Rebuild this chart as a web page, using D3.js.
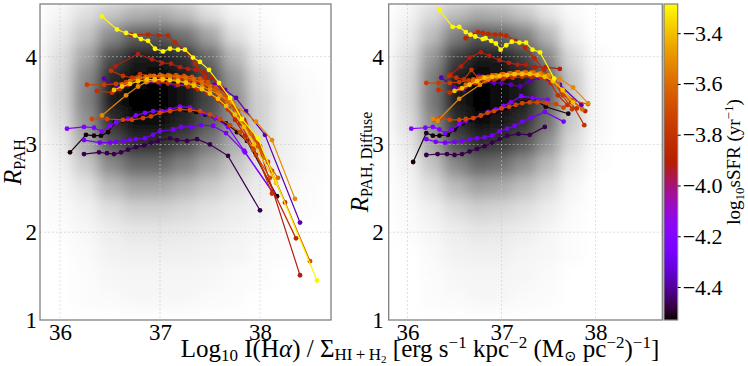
<!DOCTYPE html>
<html lang="en">
<head>
<meta charset="UTF-8">
<title>R_PAH vs Halpha per gas</title>
<script src="https://cdn.jsdelivr.net/npm/d3@7"></script>
<style>
  body { margin: 0; background: #fff; }
  svg text { font-family: "Liberation Serif", "DejaVu Serif", serif; fill: #000; }
</style>
</head>
<body>
<svg id="chart" width="748" height="366"></svg>
<script>
// ---- data ----
// one entry per galaxy, low sSFR first so the yellow one ends up on top
const sfrValues = [-4.52, -4.47, -4.38, -4.27, -4.22, -3.92, -3.86, -3.82, -3.80, -3.76, -3.72, -3.68, -3.60, -3.52, -3.40, -3.30];

const totalX = [
  [36.10,36.26,36.34,36.41,36.48,36.55,36.63,36.72,36.82,36.92,37.00,37.13,37.26,37.36,37.45,37.55,37.66,37.77,37.87,38.17],
  [36.24,36.39,36.47,36.54,36.61,36.68,36.76,36.84,36.91,36.98,37.10,37.17,37.27,37.37,37.50,37.68,38.00],
  [36.44,36.58,36.68,36.77,36.88,37.00,37.08,37.16,37.25,37.35,37.45,37.55,37.65,37.76,37.86,38.05,38.40],
  [36.24,36.40,36.50,36.56,36.63,36.70,36.76,36.85,36.93,37.00,37.13,37.21,37.31,37.41,37.53,37.66,37.85,38.13],
  [36.07,36.24,36.34,36.42,36.50,36.56,36.68,36.76,36.85,36.93,37.02,37.10,37.20,37.30,37.42,37.55,37.68,37.84,38.13],
  [36.55,36.78,36.92,37.02,37.11,37.20,37.28,37.36,37.44,37.52,37.62,37.72,37.84,37.98,38.40],
  [36.71,36.88,36.99,37.08,37.15,37.25,37.35,37.45,37.55,37.65,37.75,37.85,37.96,38.36],
  [36.37,36.52,36.60,36.68,36.78,36.88,36.98,37.08,37.18,37.28,37.38,37.48,37.58,37.68,37.80,37.94,38.12],
  [36.51,36.63,36.72,36.80,36.90,37.00,37.10,37.20,37.30,37.40,37.50,37.60,37.72,37.85,38.00,38.25],
  [36.27,36.44,36.56,36.66,36.76,36.85,36.95,37.05,37.15,37.25,37.35,37.45,37.55,37.65,37.75,37.86,37.98,38.12],
  [36.32,36.47,36.63,36.72,36.83,36.91,37.00,37.10,37.20,37.30,37.40,37.50,37.60,37.70,37.80,37.93,38.10],
  [36.70,36.80,36.90,37.00,37.08,37.16,37.24,37.32,37.40,37.48,37.56,37.66,37.78,37.92,38.08,38.50],
  [36.62,36.70,36.78,36.86,36.94,37.02,37.10,37.18,37.26,37.34,37.42,37.50,37.58,37.68,37.78,37.90,38.04,38.18],
  [36.42,36.66,36.78,36.86,36.94,37.02,37.10,37.18,37.26,37.34,37.42,37.50,37.60,37.72,37.96,38.12,38.35],
  [36.54,36.62,36.70,36.78,36.87,36.95,37.03,37.10,37.18,37.26,37.34,37.42,37.50,37.58,37.66,37.75,37.84,37.94,38.16],
  [36.42,36.57,36.66,36.75,36.81,36.88,36.95,37.03,37.10,37.18,37.25,37.33,37.40,37.49,37.59,37.70,37.82,37.98,38.57]
];
const totalY = [
  [2.91,3.11,3.10,3.10,3.14,3.25,3.27,3.29,3.31,3.34,3.36,3.39,3.39,3.37,3.34,3.30,3.24,3.14,3.04,2.41],
  [2.89,2.91,2.90,2.89,2.91,2.94,2.97,2.99,3.02,3.04,3.07,3.05,3.04,3.06,3.00,2.87,2.25],
  [3.75,3.65,3.69,3.73,3.71,3.70,3.69,3.67,3.69,3.70,3.71,3.68,3.62,3.53,3.38,3.11,2.11],
  [3.05,3.02,3.02,3.03,3.04,3.05,3.06,3.07,3.11,3.15,3.17,3.20,3.20,3.22,3.21,3.13,2.91,2.45],
  [3.18,3.20,3.19,3.15,3.21,3.25,3.29,3.33,3.36,3.38,3.38,3.40,3.43,3.42,3.36,3.30,3.20,2.93,2.45],
  [3.89,4.03,3.97,3.93,3.92,3.88,3.86,3.85,3.82,3.76,3.64,3.48,3.28,3.00,1.51],
  [4.25,4.25,4.24,4.24,4.16,4.08,3.92,3.76,3.60,3.45,3.28,3.10,2.88,1.93],
  [3.61,3.59,3.63,3.68,3.72,3.72,3.71,3.70,3.68,3.66,3.63,3.58,3.50,3.40,3.24,2.96,2.44],
  [3.84,3.78,3.76,3.80,3.78,3.77,3.77,3.76,3.74,3.72,3.66,3.58,3.44,3.25,2.98,2.34],
  [3.68,3.68,3.69,3.71,3.75,3.76,3.77,3.77,3.76,3.74,3.72,3.68,3.62,3.52,3.40,3.22,2.98,2.70],
  [3.29,3.29,3.28,3.28,3.30,3.32,3.36,3.38,3.40,3.39,3.38,3.34,3.29,3.22,3.14,2.94,2.62],
  [3.72,3.76,3.78,3.79,3.79,3.79,3.78,3.77,3.75,3.71,3.65,3.55,3.38,3.12,2.80,1.67],
  [3.68,3.72,3.75,3.77,3.78,3.78,3.78,3.77,3.76,3.74,3.71,3.66,3.59,3.48,3.34,3.12,2.85,2.62],
  [3.33,3.56,3.66,3.71,3.73,3.74,3.74,3.73,3.71,3.69,3.66,3.62,3.56,3.48,3.26,3.05,2.38],
  [3.62,3.66,3.69,3.72,3.74,3.74,3.74,3.73,3.72,3.70,3.67,3.63,3.58,3.52,3.44,3.34,3.20,3.00,2.56],
  [4.46,4.31,4.27,4.24,4.20,4.18,4.09,4.06,4.09,4.08,4.08,3.99,3.94,3.85,3.70,3.53,3.29,3.07,1.45]
];

const diffuseX = [
  [36.06,36.20,36.27,36.34,36.43,36.50,36.59,36.68,36.77,36.86,36.95,37.04,37.13,37.22,37.33,37.47,37.71],
  [36.20,36.32,36.42,36.50,36.58,36.66,36.74,36.82,36.90,36.98,37.06,37.18,37.30,37.46],
  [36.36,36.50,36.60,36.68,36.76,36.84,36.92,37.00,37.10,37.20,37.30,37.40,37.50,37.62,37.85],
  [36.20,36.30,36.40,36.50,36.58,36.66,36.74,36.82,36.90,36.98,37.06,37.14,37.22,37.31,37.46,37.66],
  [36.04,36.19,36.27,36.34,36.40,36.47,36.55,36.62,36.70,36.78,36.86,36.94,37.02,37.10,37.21,37.33,37.49],
  [36.46,36.57,36.66,36.78,36.87,36.98,37.08,37.17,37.26,37.36,37.47,37.62],
  [36.62,36.70,36.75,36.80,36.86,36.93,36.99,37.05,37.15,37.25,37.35,37.45,37.55,37.65,37.75,37.89],
  [36.33,36.45,36.55,36.62,36.72,36.82,36.92,37.02,37.12,37.22,37.32,37.42,37.52,37.60,37.70,37.80],
  [36.44,36.52,36.60,36.68,36.76,36.84,36.94,37.04,37.14,37.24,37.34,37.44,37.54,37.64,37.74,37.88],
  [36.20,36.33,36.45,36.55,36.65,36.75,36.85,36.95,37.05,37.15,37.25,37.35,37.45,37.55,37.65,37.75],
  [36.28,36.35,36.45,36.55,36.62,36.70,36.78,36.85,36.92,37.00,37.08,37.15,37.22,37.30,37.38,37.48,37.58,37.66],
  [36.70,36.80,36.90,37.00,37.08,37.16,37.24,37.32,37.40,37.48,37.56,37.66,37.76,37.92],
  [36.62,36.70,36.78,36.86,36.94,37.02,37.10,37.18,37.26,37.34,37.42,37.50,37.60,37.72,37.86],
  [36.27,36.32,36.55,36.77,36.86,36.95,37.04,37.13,37.22,37.31,37.40,37.50,37.62,37.76,37.92],
  [36.50,36.58,36.66,36.74,36.82,36.90,36.98,37.06,37.14,37.22,37.30,37.38,37.46,37.55,37.65,37.76],
  [36.34,36.48,36.55,36.62,36.67,36.72,36.80,36.83,36.89,36.94,36.99,37.05,37.11,37.19,37.26,37.33,37.41,37.56]
];
const diffuseY = [
  [2.80,3.13,3.10,3.10,3.11,3.17,3.24,3.28,3.29,3.32,3.37,3.41,3.44,3.48,3.53,3.43,3.35],
  [2.88,2.89,2.89,2.88,2.89,2.92,2.95,2.98,3.02,3.06,3.10,3.12,3.11,3.20],
  [3.76,3.65,3.62,3.70,3.78,3.72,3.70,3.70,3.68,3.66,3.72,3.76,3.75,3.68,3.45],
  [3.06,3.03,3.02,3.03,3.04,3.06,3.07,3.08,3.10,3.15,3.18,3.21,3.26,3.30,3.37,3.26],
  [3.18,3.19,3.20,3.17,3.13,3.17,3.23,3.27,3.30,3.33,3.37,3.40,3.44,3.48,3.55,3.53,3.51],
  [3.80,3.89,3.99,4.05,4.01,3.96,3.93,3.91,3.91,3.88,3.88,3.86],
  [4.21,4.25,4.28,4.27,4.26,4.25,4.25,4.24,4.18,4.10,3.98,3.85,3.72,3.60,3.50,3.38],
  [3.62,3.59,3.63,3.66,3.70,3.72,3.74,3.75,3.76,3.77,3.77,3.76,3.70,3.56,3.45,3.41],
  [3.78,3.76,3.74,3.85,3.74,3.73,3.75,3.77,3.78,3.79,3.79,3.78,3.74,3.60,3.48,3.22],
  [3.70,3.70,3.70,3.71,3.73,3.76,3.77,3.78,3.79,3.80,3.80,3.80,3.79,3.72,3.56,3.40],
  [3.28,3.30,3.28,3.28,3.29,3.30,3.33,3.36,3.38,3.41,3.43,3.45,3.47,3.48,3.48,3.47,3.46,3.42],
  [3.74,3.77,3.79,3.80,3.81,3.82,3.82,3.82,3.81,3.79,3.72,3.60,3.50,3.46],
  [3.68,3.72,3.75,3.77,3.79,3.80,3.81,3.82,3.82,3.82,3.81,3.78,3.68,3.52,3.40],
  [3.29,3.27,3.52,3.68,3.74,3.77,3.79,3.80,3.81,3.81,3.80,3.79,3.75,3.65,3.47],
  [3.61,3.64,3.68,3.72,3.76,3.77,3.78,3.79,3.80,3.80,3.80,3.79,3.77,3.72,3.62,3.48],
  [4.53,4.34,4.34,4.28,4.25,4.23,4.20,4.21,4.18,4.15,4.08,4.13,4.17,4.16,4.16,4.08,4.05,3.75]
];

// pixel density behind the tracks (0 = white, 1 = black), rows from top
const bgXCenters = [36.0, 36.25, 36.5, 36.75, 37.0, 37.25, 37.5, 37.75, 38.0, 38.25, 38.5];
const bgYCenters = [4.5, 4.25, 4.0, 3.75, 3.5, 3.25, 3.0, 2.75, 2.5, 2.25, 2.0, 1.75, 1.5, 1.25];
const bgTotal = [
  [0.04,0.12,0.22,0.30,0.32,0.25,0.12,0.04,0.01,0,0],
  [0.08,0.22,0.45,0.62,0.65,0.55,0.35,0.12,0.03,0,0],
  [0.12,0.35,0.70,0.88,0.90,0.80,0.58,0.28,0.08,0.02,0],
  [0.15,0.45,0.85,0.97,0.98,0.92,0.72,0.40,0.14,0.04,0.01],
  [0.15,0.48,0.88,0.98,0.98,0.92,0.72,0.45,0.18,0.06,0.02],
  [0.12,0.42,0.80,0.94,0.94,0.85,0.65,0.42,0.18,0.06,0.02],
  [0.08,0.32,0.65,0.82,0.82,0.70,0.52,0.32,0.15,0.06,0.02],
  [0.05,0.20,0.45,0.58,0.58,0.48,0.35,0.22,0.11,0.05,0.02],
  [0.03,0.10,0.25,0.35,0.35,0.28,0.20,0.13,0.07,0.03,0.01],
  [0.02,0.05,0.12,0.18,0.18,0.15,0.11,0.08,0.05,0.02,0.01],
  [0.01,0.03,0.07,0.10,0.10,0.09,0.07,0.05,0.03,0.02,0],
  [0,0.02,0.05,0.06,0.06,0.06,0.05,0.04,0.02,0.01,0],
  [0,0.01,0.03,0.04,0.04,0.04,0.03,0.02,0.01,0,0],
  [0,0.01,0.02,0.03,0.03,0.03,0.02,0.01,0,0,0]
];
const bgDiffuse = [
  [0.04,0.14,0.25,0.32,0.30,0.22,0.10,0.02,0,0,0],
  [0.08,0.25,0.50,0.65,0.62,0.50,0.28,0.06,0,0,0],
  [0.12,0.40,0.75,0.90,0.88,0.75,0.48,0.14,0.02,0,0],
  [0.15,0.50,0.88,0.98,0.96,0.88,0.62,0.22,0.03,0,0],
  [0.15,0.52,0.90,0.99,0.97,0.88,0.62,0.24,0.03,0,0],
  [0.12,0.45,0.82,0.95,0.92,0.80,0.55,0.20,0.03,0,0],
  [0.08,0.35,0.68,0.82,0.78,0.65,0.42,0.14,0.02,0,0],
  [0.05,0.22,0.45,0.58,0.55,0.42,0.26,0.08,0.01,0,0],
  [0.03,0.12,0.26,0.35,0.32,0.24,0.14,0.04,0,0,0],
  [0.02,0.06,0.13,0.18,0.16,0.12,0.07,0.02,0,0,0],
  [0.01,0.04,0.07,0.10,0.09,0.07,0.04,0.01,0,0,0],
  [0,0.02,0.05,0.06,0.06,0.04,0.03,0.01,0,0,0],
  [0,0.01,0.03,0.04,0.04,0.03,0.02,0,0,0,0],
  [0,0.01,0.02,0.03,0.03,0.02,0.01,0,0,0,0]
];

const xTicks = [36, 37, 38];
const yTicks = [1, 2, 3, 4];
const cbarTicks = [-4.4, -4.2, -4.0, -3.8, -3.6, -3.4];

// ---- setup ----
const svg = d3.select("#chart");
const plotTop = 4, plotBottom = 320;
const serif = '"Liberation Serif", "DejaVu Serif", serif';

// matplotlib "gnuplot" colormap
function gnuplot(t) {
  return d3.rgb(255 * Math.sqrt(t), 255 * t * t * t, 255 * Math.max(0, Math.sin(2 * Math.PI * t))).toString();
}
const sfrDomain = [-4.53, -3.285];
const color = d3.scaleSequential(gnuplot).domain(sfrDomain);
const gray = d3.scaleLinear().domain([0, 1]).range(["#ffffff", "#000000"]);

const defs = svg.append("defs");

// text with sub/superscripts; off = baseline offset in px
function rich(sel, parts, size) {
  const t = sel.append("text").attr("font-size", size).style("font-family", serif);
  let cur = 0;
  parts.forEach(p => {
    const off = p.off || 0;
    const ts = t.append("tspan").text(p.t).attr("dy", off - cur);
    cur = off;
    if (p.size) ts.attr("font-size", p.size);
    if (p.it) ts.attr("font-style", "italic");
  });
  return t;
}

function panel(id, x0, x1, xs, ys, bg, tickPad) {
  const x = d3.scaleLinear().domain([35.8, 38.71]).range([x0, x1]);
  const y = d3.scaleLinear().domain([1, 4.6]).range([plotBottom, plotTop]);

  defs.append("clipPath").attr("id", "clip-" + id)
    .append("rect").attr("x", x0).attr("y", plotTop).attr("width", x1 - x0).attr("height", plotBottom - plotTop);
  defs.append("filter").attr("id", "blur-" + id)
    .attr("filterUnits", "userSpaceOnUse")
    .attr("x", x0 - 60).attr("y", plotTop - 60).attr("width", x1 - x0 + 120).attr("height", plotBottom - plotTop + 120)
    .append("feGaussianBlur").attr("stdDeviation", 7);

  const g = svg.append("g").attr("clip-path", `url(#clip-${id})`);
  g.append("rect").attr("x", x0).attr("y", plotTop).attr("width", x1 - x0).attr("height", plotBottom - plotTop).attr("fill", "#fff");

  // density background
  const cells = [];
  bg.forEach((row, i) => row.forEach((v, j) => cells.push({ cx: bgXCenters[j], cy: bgYCenters[i], v })));
  const cw = Math.abs(x(36.25) - x(36)), ch = Math.abs(y(3.25) - y(3));
  g.append("g").attr("filter", `url(#blur-${id})`)
    .selectAll("rect").data(cells).join("rect")
    .attr("x", d => x(d.cx) - cw / 2).attr("y", d => y(d.cy) - ch / 2)
    .attr("width", cw + 0.5).attr("height", ch + 0.5)
    .attr("fill", d => gray(d.v));

  // grid
  g.selectAll(".vg").data(xTicks).join("line")
    .attr("x1", d => x(d)).attr("x2", d => x(d)).attr("y1", plotTop).attr("y2", plotBottom)
    .attr("stroke", "#c8c8c8").attr("stroke-width", 0.8).attr("stroke-dasharray", "2,2").attr("opacity", 0.7);
  g.selectAll(".hg").data([2, 3, 4]).join("line")
    .attr("y1", d => y(d)).attr("y2", d => y(d)).attr("x1", x0).attr("x2", x1)
    .attr("stroke", "#c8c8c8").attr("stroke-width", 0.8).attr("stroke-dasharray", "2,2").attr("opacity", 0.7);

  // tracks
  const line = d3.line().x(d => x(d[0])).y(d => y(d[1]));
  sfrValues.forEach((s, i) => {
    const pts = xs[i].map((v, j) => [v, ys[i][j]]);
    const c = color(s);
    const lg = g.append("g");
    lg.append("path").datum(pts).attr("d", line)
      .attr("fill", "none").attr("stroke", c).attr("stroke-width", 1.2);
    lg.selectAll("circle").data(pts).join("circle")
      .attr("cx", d => x(d[0])).attr("cy", d => y(d[1])).attr("r", 2.4).attr("fill", c);
  });

  // axes
  const ax = svg.append("g").attr("transform", `translate(0,${plotBottom})`)
    .call(d3.axisBottom(x).tickValues(xTicks).tickSize(0).tickPadding(4).tickFormat(d3.format("d")));
  const ay = svg.append("g").attr("transform", `translate(${x0},0)`)
    .call(d3.axisLeft(y).tickValues(yTicks).tickSize(0).tickPadding(tickPad).tickFormat(d3.format("d")));
  [ax, ay].forEach(a => {
    a.select(".domain").remove();
    a.selectAll("text").attr("font-size", 23).style("font-family", serif);
  });

  svg.append("rect").attr("x", x0).attr("y", plotTop).attr("width", x1 - x0).attr("height", plotBottom - plotTop)
    .attr("fill", "none").attr("stroke", "#808080").attr("stroke-width", 1.3);
}

panel("tot", 40, 331, totalX, totalY, bgTotal, 3);
panel("dif", 388.7, 662.3, diffuseX, diffuseY, bgDiffuse, 5);

// colorbar
const cbX = 664, cbW = 13.7;
const cy = d3.scaleLinear().domain(sfrDomain).range([plotBottom, plotTop]);
const grad = defs.append("linearGradient").attr("id", "cbar")
  .attr("x1", 0).attr("y1", 1).attr("x2", 0).attr("y2", 0);
d3.range(0, 1.0001, 0.02).forEach(t => {
  grad.append("stop").attr("offset", t).attr("stop-color", gnuplot(t));
});
svg.append("rect").attr("x", cbX).attr("y", plotTop).attr("width", cbW).attr("height", plotBottom - plotTop)
  .attr("fill", "url(#cbar)").attr("stroke", "#808080").attr("stroke-width", 1.2);
const cax = svg.append("g").attr("transform", `translate(${cbX + cbW},0)`)
  .call(d3.axisRight(cy).tickValues(cbarTicks).tickSize(3).tickPadding(2).tickFormat(d3.format(".1f")));
cax.select(".domain").remove();
cax.selectAll("line").attr("stroke", "#000");
cax.selectAll("text").attr("font-size", 22).style("font-family", serif);

// labels
rich(svg.append("g").attr("transform", "translate(21,162) rotate(-90)"),
  [{ t: "R", it: true }, { t: "PAH", off: 4, size: 16 }], 25).attr("text-anchor", "middle");
rich(svg.append("g").attr("transform", "translate(368,162) rotate(-90)"),
  [{ t: "R", it: true }, { t: "PAH,\u2009Diffuse", off: 4, size: 16 }], 25).attr("text-anchor", "middle");
rich(svg.append("g").attr("transform", "translate(740,162) rotate(-90)"),
  [{ t: "log" }, { t: "10", off: 4, size: 13 }, { t: "sSFR (yr", off: 0 }, { t: "\u22121", off: -7, size: 13 }, { t: ")", off: 0 }], 19)
  .attr("text-anchor", "middle");
rich(svg.append("g").attr("transform", "translate(420,357)"), [
  { t: "Log" }, { t: "10", off: 4, size: 17 }, { t: " I(H", off: 0 }, { t: "\u03b1", it: true }, { t: ") / \u03a3" },
  { t: "HI\u2009+\u2009H", off: 3, size: 17 }, { t: "2", off: 6, size: 11 },
  { t: " [erg s", off: 0 }, { t: "\u22121", off: -9, size: 17 }, { t: " kpc", off: 0 }, { t: "\u22122", off: -9, size: 17 },
  { t: " (M", off: 0 }, { t: "\u2299", off: 4, size: 15 }, { t: " pc", off: 0 }, { t: "\u22122", off: -9, size: 17 },
  { t: ")", off: 0 }, { t: "\u22121", off: -9, size: 17 }, { t: "]", off: 0 }
], 25).attr("text-anchor", "middle");
</script>
</body>
</html>
